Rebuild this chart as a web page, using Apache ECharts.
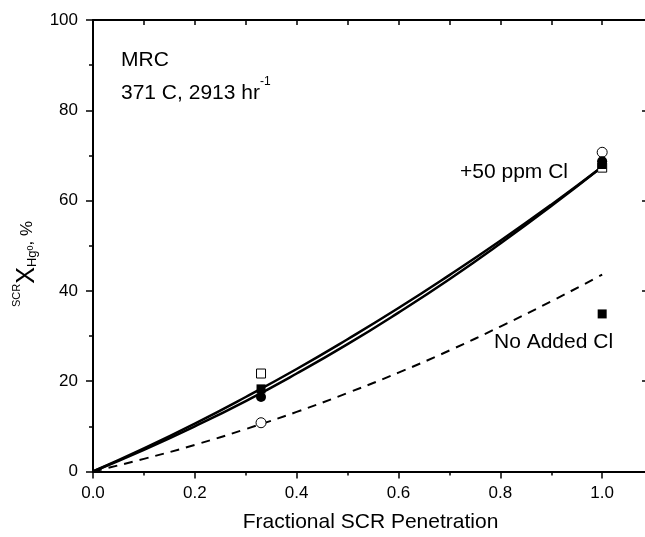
<!DOCTYPE html>
<html><head><meta charset="utf-8">
<script src="https://cdn.jsdelivr.net/npm/echarts@6/dist/echarts.min.js"></script>
<style>html,body{margin:0;padding:0;background:#fff}#c{width:645px;height:537px}</style>
</head><body><div id="c"></div>
<script>
// Curve sample positions
const curveX = [0, 0.1, 0.2, 0.3, 0.4, 0.5, 0.6, 0.7, 0.8, 0.9, 1.0];
// +50 ppm Cl fits (two solid curves)
const fitUpper = [0, 5.1, 10.6, 16.5, 22.7, 29.3, 36.2, 43.5, 51.1, 59.1, 67.5];
const fitLower = [0, 4.8, 10.0, 15.6, 21.7, 28.2, 35.2, 42.6, 50.5, 58.8, 67.5];
// No added Cl fit (dashed)
const fitNoCl = [0, 2.8, 5.9, 9.4, 13.2, 17.4, 21.9, 26.8, 32.1, 37.7, 43.6];
// Measured points
const openSquareX = [0.33, 1.0];
const openSquareY = [21.7, 67.3];
const filledSquareX = [0.33, 1.0, 1.0];
const filledSquareY = [18.3, 68.0, 34.9];
const filledCircleX = [0.33, 1.0];
const filledCircleY = [16.5, 68.7];
const openCircleX = [0.33, 1.0];
const openCircleY = [10.8, 70.7];
// Ticks
const xMajor = [0, 0.2, 0.4, 0.6, 0.8, 1.0];
const xMinor = [0.1, 0.3, 0.5, 0.7, 0.9];
const xTop = [0.1, 0.2, 0.3, 0.4, 0.5, 0.6, 0.7, 0.8, 0.9, 1.0];
const yMajor = [0, 20, 40, 60, 80, 100];
const yMinor = [10, 30, 50, 70, 90];

const zip = (xs, ys) => xs.map((x, i) => [x, ys[i]]);
const FONT = 'Liberation Sans, Arial, sans-serif';
const XMAX = 1.09, YMAX = 100;
const line = { color: '#000', width: 2 };
const tick = { color: '#000', width: 1.5 };

const chart = echarts.init(document.getElementById('c'));
chart.setOption({
  animation: false,
  backgroundColor: '#fff',
  grid: { left: 93, top: 20, width: 555, height: 451.5, containLabel: false, outerBoundsMode: 'none' },
  xAxis: [
    { type: 'value', min: 0, max: XMAX, position: 'bottom',
      axisLine: { show: true, onZero: false, lineStyle: line },
      axisTick: { show: true, customValues: xMajor, length: 7, lineStyle: tick },
      axisLabel: { customValues: xMajor, color: '#000', fontSize: 17, fontFamily: FONT, margin: 13,
        formatter: v => v.toFixed(1) },
      splitLine: { show: false },
      name: 'Fractional SCR Penetration', nameLocation: 'middle', nameGap: 40,
      nameTextStyle: { color: '#000', fontSize: 21, fontFamily: FONT } },
    { type: 'value', min: 0, max: XMAX, position: 'top',
      axisLine: { show: true, onZero: false, lineStyle: line },
      axisTick: { show: true, inside: true, customValues: xTop, length: 5, lineStyle: tick },
      axisLabel: { show: false }, splitLine: { show: false } },
    { type: 'value', min: 0, max: XMAX, position: 'bottom',
      axisLine: { show: false, onZero: false },
      axisTick: { show: true, customValues: xMinor, length: 4, lineStyle: tick },
      axisLabel: { show: false }, splitLine: { show: false } }
  ],
  yAxis: [
    { type: 'value', min: 0, max: YMAX, position: 'left',
      axisLine: { show: true, onZero: false, lineStyle: line },
      axisTick: { show: true, customValues: yMajor, length: 7, lineStyle: tick },
      axisLabel: { customValues: yMajor, color: '#000', fontSize: 17, fontFamily: FONT, margin: 15 },
      splitLine: { show: false } },
    { type: 'value', min: 0, max: YMAX, position: 'right',
      axisLine: { show: true, onZero: false, lineStyle: line },
      axisTick: { show: true, inside: true, customValues: yMajor, length: 6, lineStyle: tick },
      axisLabel: { show: false }, splitLine: { show: false } },
    { type: 'value', min: 0, max: YMAX, position: 'left',
      axisLine: { show: false, onZero: false },
      axisTick: { show: true, customValues: yMinor, length: 4, lineStyle: tick },
      axisLabel: { show: false }, splitLine: { show: false } }
  ],
  series: [
    { type: 'line', data: zip(curveX, fitUpper), symbol: 'none', smooth: true,
      lineStyle: { color: '#000', width: 2.5 }, z: 2 },
    { type: 'line', data: zip(curveX, fitLower), symbol: 'none', smooth: true,
      lineStyle: { color: '#000', width: 2.5 }, z: 2 },
    { type: 'line', data: zip(curveX, fitNoCl), symbol: 'none', smooth: true,
      lineStyle: { color: '#000', width: 2, type: [9, 7] }, z: 2 },
    { type: 'scatter', data: zip(openSquareX, openSquareY), symbol: 'rect', symbolSize: 9,
      itemStyle: { color: '#fff', borderColor: '#000', borderWidth: 1, opacity: 1 }, z: 3 },
    { type: 'scatter', data: zip(filledSquareX, filledSquareY), symbol: 'rect', symbolSize: 9,
      itemStyle: { color: '#000', opacity: 1 }, z: 4 },
    { type: 'scatter', data: zip(openCircleX, openCircleY), symbol: 'circle', symbolSize: 10,
      itemStyle: { color: '#fff', borderColor: '#000', borderWidth: 1, opacity: 1 }, z: 3 },
    { type: 'scatter', data: zip(filledCircleX, filledCircleY), symbol: 'circle', symbolSize: 10,
      itemStyle: { color: '#000', opacity: 1 }, z: 5 }
  ],
  graphic: [
    { type: 'text', left: 121, top: 50, style: { text: 'MRC', fill: '#000', font: '21px ' + FONT } },
    { type: 'text', left: 121, top: 76, style: {
      text: '{n|371 C, 2913 hr}{s|-1}', fill: '#000',
      rich: { n: { fontSize: 21, fontFamily: FONT, fill: '#000', lineHeight: 28, verticalAlign: 'bottom' },
              s: { fontSize: 12, fontFamily: FONT, fill: '#000', lineHeight: 28, verticalAlign: 'top' } } } },
    { type: 'text', left: 460, top: 162, style: { text: '+50 ppm Cl', fill: '#000', font: '21px ' + FONT } },
    { type: 'text', left: 494, top: 332, style: { text: 'No Added Cl', fill: '#000', font: '21px ' + FONT } },
    { type: 'text', x: 11, y: 307, rotation: Math.PI / 2, style: {
      text: '{a|SCR}{b|X}{c|Hg}{d|0}{e|, %}', fill: '#000',
      rich: {
        a: { fontSize: 11, fontFamily: FONT, lineHeight: 32, verticalAlign: 'top' },
        b: { fontSize: 25, fontFamily: FONT, lineHeight: 32, verticalAlign: 'middle' },
        c: { fontSize: 13, fontFamily: FONT, lineHeight: 32, verticalAlign: 'bottom', padding: [0, 0, 4, 0] },
        d: { fontSize: 9, fontFamily: FONT, lineHeight: 32, verticalAlign: 'bottom', padding: [0, 0, 8, 0] },
        e: { fontSize: 17, fontFamily: FONT, lineHeight: 32, verticalAlign: 'middle' }
      } } }
  ]
});
</script></body></html>
